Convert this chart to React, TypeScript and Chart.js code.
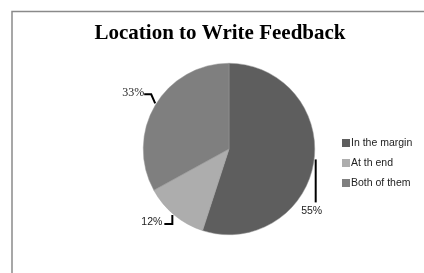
import React, { useEffect, useRef } from "react";
import { Chart, registerables } from "chart.js";

Chart.register(...registerables);

const titleText = "Location to Write Feedback";
const categories = ["In the margin", "At th end", "Both of them"];
const values = [55, 12, 33];
const colors = ["#5e5e5e", "#adadad", "#7f7f7f"];

export default function App() {
  const ref = useRef<HTMLCanvasElement | null>(null);

  useEffect(() => {
    if (!ref.current) return;

    const framePlugin = {
      id: "frame",
      beforeDraw(chart: any) {
        const ctx = chart.ctx;
        ctx.save();
        ctx.fillStyle = "#ffffff";
        ctx.fillRect(0, 0, chart.width, chart.height);
        ctx.strokeStyle = "#8a8a8a";
        ctx.lineWidth = 1.5;
        ctx.beginPath();
        ctx.moveTo(12, chart.height);
        ctx.lineTo(12, 11.5);
        ctx.lineTo(chart.width, 11.5);
        ctx.stroke();
        ctx.fillStyle = "#000";
        ctx.font = "bold 21px 'Liberation Serif', 'Times New Roman', serif";
        ctx.textAlign = "center";
        ctx.textBaseline = "alphabetic";
        ctx.fillText(titleText, 220, 39);
        ctx.restore();
      },
      afterDraw(chart: any) {
        const ctx = chart.ctx;
        const meta = chart.getDatasetMeta(0);
        ctx.save();
        // legend
        ctx.font = "10.5px 'Liberation Sans', Arial, sans-serif";
        ctx.textBaseline = "middle";
        ctx.textAlign = "left";
        categories.forEach((c, i) => {
          const y = 143 + i * 20;
          ctx.fillStyle = colors[i];
          ctx.fillRect(342, y - 4, 8, 8);
          ctx.fillStyle = "#222";
          ctx.fillText(c, 351, y);
        });
        // labels with leaders
        ctx.strokeStyle = "#000";
        ctx.lineWidth = 2;
        ctx.fillStyle = "#222";
        meta.data.forEach((arc: any, i: number) => {
          const p = arc.getProps(["x", "y", "startAngle", "endAngle", "outerRadius"], true);
          const mid = (p.startAngle + p.endAngle) / 2;
          const ax = p.x + Math.cos(mid) * p.outerRadius;
          const ay = p.y + Math.sin(mid) * p.outerRadius;
          const txt = values[i] + "%";
          ctx.beginPath();
          if (i === 0) {
            ctx.font = "10.5px 'Liberation Sans', Arial, sans-serif";
            ctx.moveTo(ax + 2, ay - 3);
            ctx.lineTo(ax + 2, ay + 40);
            ctx.stroke();
            ctx.textAlign = "center";
            ctx.fillText(txt, ax - 2, ay + 49);
          } else if (i === 1) {
            ctx.font = "10.5px 'Liberation Sans', Arial, sans-serif";
            ctx.moveTo(ax - 2, ay);
            ctx.lineTo(ax - 2, ay + 9);
            ctx.lineTo(ax - 10, ay + 9);
            ctx.stroke();
            ctx.textAlign = "right";
            ctx.fillText(txt, ax - 12, ay + 7);
          } else {
            ctx.font = "12px 'Liberation Serif', 'Times New Roman', serif";
            ctx.moveTo(ax, ay - 2);
            ctx.lineTo(ax - 4, ay - 11);
            ctx.lineTo(ax - 11, ay - 11);
            ctx.stroke();
            ctx.textAlign = "right";
            ctx.fillText(txt, ax - 11, ay - 13);
          }
        });
        ctx.restore();
      },
    };

    const chart = new Chart(ref.current, {
      type: "pie",
      data: {
        labels: categories,
        datasets: [
          {
            data: values,
            backgroundColor: colors,
            borderColor: "#9a9a9a",
            borderWidth: 0.5,
          },
        ],
      },
      options: {
        responsive: false,
        animation: false,
        layout: { padding: { left: 143, right: 109, top: 63, bottom: 38 } },
        plugins: {
          legend: { display: false },
          title: { display: false },
          tooltip: { enabled: false },
        },
      },
      plugins: [framePlugin],
    });
    return () => chart.destroy();
  }, []);

  return (
    <div style={{ position: "fixed", left: 0, top: 0, width: 424, height: 273, background: "#fff" }}>
      <canvas ref={ref} width={424} height={273} style={{ width: 424, height: 273, display: "block" }} />
    </div>
  );
}
